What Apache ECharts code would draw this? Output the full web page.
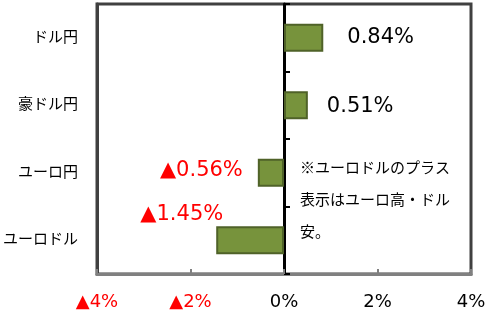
<!DOCTYPE html>
<html><head><meta charset="utf-8">
<script src="https://cdn.jsdelivr.net/npm/echarts@6/dist/echarts.min.js"></script>
<style>html,body{margin:0;padding:0;background:#fff}#c{width:492px;height:314px}</style>
</head><body><div id="c"></div>
<script>
const categories = ['ドル円', '豪ドル円', 'ユーロ円', 'ユーロドル'];
const values = [0.84, 0.51, -0.56, -1.45];
const xTicks = [-4, -2, 0, 2, 4];
const note = '※ユーロドルのプラス\n表示はユーロ高・ドル\n安。';

const FONT = '"DejaVu Sans", "Noto Sans CJK JP", sans-serif';
const labelOffsets = [[19, 0], [14, 1], [-10, -2], [12, -26]];
function fmt(v) { return (v < 0 ? '▲' + Math.abs(v).toFixed(2) : v.toFixed(2)) + '%'; }

const chart = echarts.init(document.getElementById('c'));
chart.setOption({
  animation: false,
  grid: { left: 93, right: 21, top: 4, bottom: 40, show: true, borderColor: '#404040', borderWidth: 3, backgroundColor: '#fff' },
  xAxis: {
    type: 'value', min: xTicks[0], max: xTicks[xTicks.length - 1], interval: 2,
    axisLine: { show: true, onZero: false, lineStyle: { color: '#808080', width: 3 } },
    axisTick: { show: true, inside: true, length: 5, lineStyle: { color: '#808080', width: 2 } },
    splitLine: { show: false },
    axisLabel: {
      margin: 19, fontSize: 18, fontFamily: FONT,
      color: v => (v < 0 ? '#FF0000' : '#000'),
      formatter: v => (v < 0 ? '▲' + Math.abs(v) : v) + '%'
    }
  },
  yAxis: [{
    type: 'category', data: categories, inverse: true,
    axisLine: { show: true, onZero: false, lineStyle: { color: '#404040', width: 3 } },
    axisTick: { show: false },
    axisLabel: { margin: 19, fontSize: 15, color: '#000', fontFamily: FONT }
  }, {
    type: 'category', data: categories, inverse: true, position: 'left',
    axisLine: { show: true, onZero: true, lineStyle: { color: '#000', width: 3 } },
    axisTick: { show: true, inside: true, length: 6, lineStyle: { color: '#000', width: 2 } },
    axisLabel: { show: false }
  }],
  series: [{
    type: 'bar', yAxisIndex: 0, barWidth: 28, z: 1,
    itemStyle: { color: '#77933C', borderColor: '#4F6228', borderWidth: 2 },
    data: values.map((v, i) => ({
      value: v,
      label: {
        show: true, position: v < 0 ? 'left' : 'right', offset: labelOffsets[i],
        formatter: fmt(v), fontSize: 21, fontFamily: FONT,
        color: v < 0 ? '#FF0000' : '#000'
      }
    }))
  }],
  graphic: [{
    type: 'text', left: 300, top: 151, z: 10,
    style: { text: note, font: '15px "Noto Sans CJK JP", sans-serif', fill: '#000', lineHeight: 32 }
  }]
});
</script></body></html>
